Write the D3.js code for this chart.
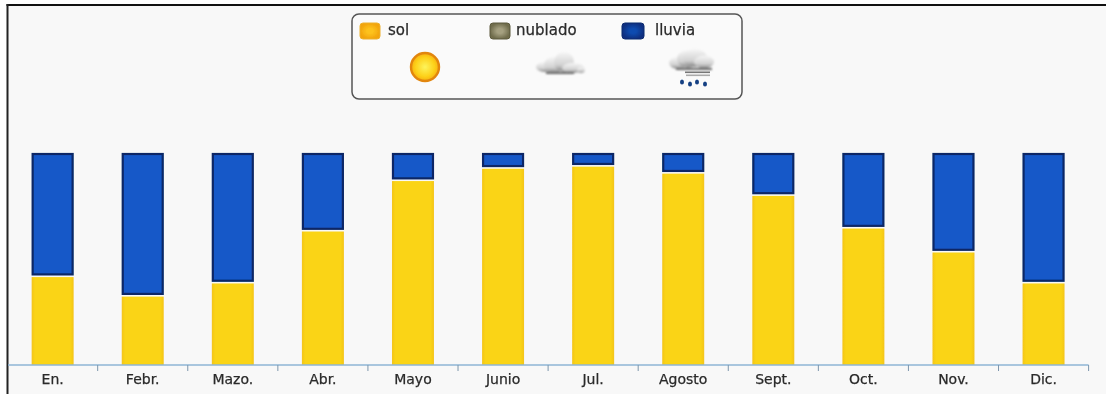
<!DOCTYPE html>
<html>
<head>
<meta charset="utf-8">
<script src="https://cdn.jsdelivr.net/npm/d3@7"></script>
<style>
html, body { margin: 0; padding: 0; background: #fff; }
svg { display: block; }
text { font-family: "DejaVu Sans", sans-serif; fill: #2a2a2a; stroke: #2a2a2a; stroke-width: 0.25; }
</style>
</head>
<body>
<svg id="chart" width="1106" height="394"></svg>
<script>
// data, share of the days per month
var months = ["En.", "Febr.", "Mazo.", "Abr.", "Mayo", "Junio", "Jul.", "Agosto", "Sept.", "Oct.", "Nov.", "Dic."];
var sol = [41.7, 32.5, 38.7, 63.2, 87, 92.8, 93.8, 90.5, 80, 64.6, 53.3, 38.7];
var lluvia = [58.3, 67.5, 61.3, 36.8, 13, 7.2, 6.2, 9.5, 20, 35.4, 46.7, 61.3];
var legendNames = ["sol", "nublado", "lluvia"];
var legendFill = ["url(#swSol)", "url(#swNub)", "url(#swLluvia)"];
var legendStroke = ["#edb02a", "#5d5a3c", "#0b2a6e"];

var svg = d3.select("#chart");
var defs = svg.append("defs");

function hGrad(id, edge, mid){
    var g = defs.append("linearGradient").attr("id", id);
    g.append("stop").attr("offset", "0%").attr("stop-color", edge);
    g.append("stop").attr("offset", "8%").attr("stop-color", mid);
    g.append("stop").attr("offset", "92%").attr("stop-color", mid);
    g.append("stop").attr("offset", "100%").attr("stop-color", edge);
}
hGrad("barSol", "#f3c41c", "#fad414");

function swatch(id, inner, outer){
    var g = defs.append("radialGradient").attr("id", id);
    g.append("stop").attr("offset", "30%").attr("stop-color", inner);
    g.append("stop").attr("offset", "100%").attr("stop-color", outer);
}
swatch("swSol", "#fdc21c", "#f2a40c");
swatch("swNub", "#a5a080", "#6f6c4c");
swatch("swLluvia", "#0f4bb0", "#0b2f80");

var sunGrad = defs.append("radialGradient").attr("id", "sunFill");
sunGrad.append("stop").attr("offset", "0%").attr("stop-color", "#fdf45c");
sunGrad.append("stop").attr("offset", "70%").attr("stop-color", "#fdd018");
sunGrad.append("stop").attr("offset", "100%").attr("stop-color", "#f6ae10");

var cloudGrad = defs.append("linearGradient").attr("id", "cloudFill").attr("x2", 0).attr("y2", 1);
cloudGrad.append("stop").attr("offset", "0%").attr("stop-color", "#f6f6f6");
cloudGrad.append("stop").attr("offset", "65%").attr("stop-color", "#d2d2d2");
cloudGrad.append("stop").attr("offset", "100%").attr("stop-color", "#808080");

// the reference is a soft screenshot
defs.append("filter").attr("id", "soft").append("feGaussianBlur").attr("stdDeviation", 0.45);
defs.append("filter").attr("id", "softer").append("feGaussianBlur").attr("stdDeviation", 0.8);

// background and frame
svg.append("rect").attr("x", 8).attr("y", 5).attr("width", 1098).attr("height", 389).attr("fill", "#f8f8f8");
svg.append("rect").attr("x", 6.5).attr("y", 4).attr("width", 1099.5).attr("height", 2).attr("fill", "#111");
svg.append("rect").attr("x", 6.5).attr("y", 4).attr("width", 2).attr("height", 390).attr("fill", "#222");

// scales
var x = d3.scaleBand().domain(months).range([7.6, 1088.6]).paddingInner(0.534).paddingOuter(0.267);
var y = d3.scaleLinear().domain([0, 100]).range([365, 153]);

// bars
var bars = svg.append("g").attr("filter", "url(#soft)");
bars.selectAll(".sol").data(months).enter().append("rect")
    .attr("class", "sol")
    .attr("x", function(d){ return x(d); })
    .attr("width", x.bandwidth())
    .attr("y", function(d, i){ return y(sol[i]) + 0.5; })
    .attr("height", function(d, i){ return y(0) - y(sol[i]) - 0.5; })
    .attr("fill", "url(#barSol)");
bars.selectAll(".lluvia").data(months).enter().append("rect")
    .attr("class", "lluvia")
    .attr("x", function(d){ return x(d) + 1; })
    .attr("width", x.bandwidth() - 2)
    .attr("y", function(d, i){ return y(sol[i] + lluvia[i]) + 1; })
    .attr("height", function(d, i){ return y(0) - y(lluvia[i]) - 3.2; })
    .attr("fill", "#1858c8")
    .attr("stroke", "#082866")
    .attr("stroke-width", 2.2);

// axis, ticks sit between the months
var axisG = svg.append("g").attr("transform", "translate(0,365)");
axisG.append("line").attr("x1", 8).attr("x2", 1088.6).attr("stroke", "#8fb6d6").attr("stroke-width", 1.4);
axisG.selectAll(".tk").data(months).enter().append("line")
    .attr("class", "tk")
    .attr("x1", function(d){ return x(d) + x.bandwidth() + x.step() * 0.267; })
    .attr("x2", function(d){ return x(d) + x.bandwidth() + x.step() * 0.267; })
    .attr("y1", 0).attr("y2", 6)
    .attr("stroke", "#7d97ad").attr("stroke-width", 1);
axisG.selectAll(".lb").data(months).enter().append("text")
    .attr("class", "lb")
    .attr("x", function(d){ return x(d) + x.bandwidth() / 2; })
    .attr("y", 19)
    .attr("text-anchor", "middle")
    .attr("font-size", 14)
    .attr("filter", "url(#soft)")
    .text(function(d){ return d; });

// legend
var legend = svg.append("g");
legend.append("rect").attr("x", 352).attr("y", 14).attr("width", 390).attr("height", 85).attr("rx", 7)
    .attr("fill", "#fafafa").attr("stroke", "#555").attr("stroke-width", 1.5);

var swatchX = [360, 490, 622];
var swatchW = [20, 20, 22];
var labelX = [388, 516, 655];
legendNames.forEach(function(n, i){
    legend.append("rect").attr("x", swatchX[i]).attr("y", 23).attr("width", swatchW[i]).attr("height", 16).attr("rx", 3)
        .attr("fill", legendFill[i]).attr("stroke", legendStroke[i]).attr("stroke-width", 1)
        .attr("filter", "url(#soft)");
    legend.append("text").attr("x", labelX[i]).attr("y", 35).attr("font-size", 15)
        .attr("filter", "url(#soft)").text(n);
});

// icons
legend.append("circle").attr("cx", 425).attr("cy", 67).attr("r", 14)
    .attr("fill", "url(#sunFill)").attr("stroke", "#e2860c").attr("stroke-width", 2.4)
    .attr("filter", "url(#soft)");

function cloud(cx, cy, puffs, bandX, bandY, bandW){
    var g = legend.append("g").attr("filter", "url(#softer)");
    puffs.forEach(function(p){
        g.append("ellipse").attr("cx", cx + p[0]).attr("cy", cy + p[1])
            .attr("rx", p[2]).attr("ry", p[3]).attr("fill", "url(#cloudFill)");
    });
    g.append("rect").attr("x", bandX).attr("y", bandY).attr("width", bandW).attr("height", 2).attr("fill", "#666");
}
cloud(561, 66, [[-16, 1, 9, 5], [-7, -1, 10, 8], [3, -4, 10, 10], [12, 2, 11, 5], [20, 4, 4, 3]], 546, 72, 28);
cloud(692, 61, [[-14, 2, 9, 6], [-4, -2, 11, 9], [3, -3, 12, 9], [12, 1, 10, 6.5]], 676, 68, 36);

var lines = legend.append("g").attr("filter", "url(#soft)");
lines.append("rect").attr("x", 685).attr("y", 71.5).attr("width", 25).attr("height", 1.6).attr("fill", "#777");
lines.append("rect").attr("x", 686).attr("y", 74.5).attr("width", 24).attr("height", 1.6).attr("fill", "#aaa");

[[682, 82], [690, 84], [697, 82], [705, 84]].forEach(function(d){
    lines.append("ellipse").attr("cx", d[0]).attr("cy", d[1]).attr("rx", 2).attr("ry", 2.6).attr("fill", "#123f82");
});
</script>
</body>
</html>
